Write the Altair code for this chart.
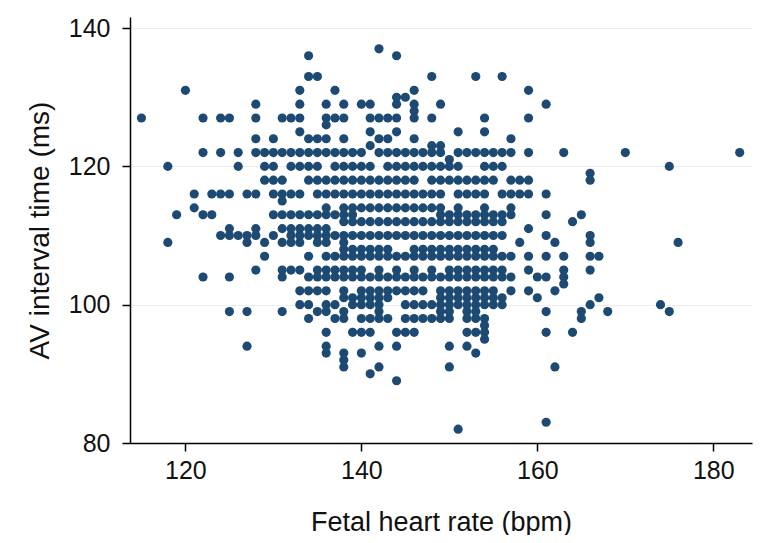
import altair as alt
import pandas as pd

# AV interval (ms) rows -> fetal heart rates (bpm)
r137 = [142]
r136 = [134, 144]
r133 = [134, 135, 148, 153, 156]
r131 = [120, 133, 137, 146, 159]
r130 = [144, 145]
r129 = [128, 133, 136, 138, 140, 141, 144, 146, 149, 161]
r128 = [146]
r127 = [115, 122, 124, 125, 128, 131, 132, 133, 136, 137, 138, 141, 142, 143, 144, 146, 148, 154, 159]
r126 = [136]
r125 = [133, 141, 144, 151, 154]
r124 = [128, 130, 134, 135, 136, 138, 142, 143, 146, 157]
r123 = [141, 148, 149]
r122 = [122, 124, 126, 128, 129, 130, 131, 132, 133, 134, 135, 136, 137, 138, 139, 140, 142, 143, 144, 145,
        146, 147, 148, 149, 151, 152, 153, 154, 155, 156, 157, 159, 163, 170, 183]
r121 = [150]
r120 = [118, 126, 129, 130, 132, 133, 134, 135, 137, 138, 139, 140, 141, 143, 144, 145, 146, 147, 148, 149,
        150, 151, 154, 155, 156, 175]
r119 = [166]
r118 = [129, 130, 131, 134, 135, 136, 137, 138, 139, 140, 141, 142, 143, 144, 145, 146, 148, 149, 150, 151,
        152, 153, 154, 155, 157, 158, 159, 166]
r116 = [121, 123, 124, 125, 127, 128, 130, 131, 132, 133, 135, 136, 137, 138, 139, 140, 141, 142, 143, 144,
        145, 146, 147, 148, 149, 151, 152, 153, 154, 156, 157, 158, 159, 161]
r115 = [131]
r114 = [121, 136, 138, 139, 140, 141, 142, 143, 144, 145, 146, 147, 148, 149, 151, 154, 157]
r113 = [119, 122, 123, 130, 131, 132, 133, 134, 135, 136, 137, 138, 139, 149, 150, 151, 152, 153, 154, 155,
        156, 157, 161, 165]
r112 = [138, 139, 140, 141, 142, 143, 144, 145, 146, 147, 148, 149, 150, 151, 152, 153, 154, 155, 156, 164]
r111 = [125, 128, 131, 132, 133, 134, 135, 136, 159]
r110 = [124, 125, 126, 127, 128, 130, 132, 133, 134, 135, 136, 137, 138, 139, 140, 141, 142, 143, 144, 145,
        146, 147, 148, 149, 150, 151, 152, 153, 154, 155, 156, 161, 166]
r109 = [118, 127, 129, 131, 132, 133, 135, 136, 138, 158, 162, 166, 176]
r108 = [138, 139, 140, 141, 142, 143, 146, 147, 148, 149, 150, 151, 152, 153, 154, 155]
r107 = [129, 134, 136, 137, 138, 139, 140, 141, 142, 143, 144, 145, 146, 147, 148, 149, 150, 151, 152, 153,
        154, 155, 156, 157, 159, 161, 163, 166, 167]
r105 = [128, 131, 132, 133, 135, 136, 137, 138, 139, 140, 142, 144, 146, 148, 150, 151, 152, 153, 154, 155,
        156, 159, 163, 166]
r104 = [122, 125, 131, 134, 135, 136, 137, 138, 139, 140, 141, 142, 143, 144, 145, 146, 147, 148, 149, 150,
        151, 152, 153, 154, 155, 156, 157, 160, 161, 163]
r103 = [163]
r102 = [133, 134, 135, 136, 138, 140, 141, 142, 143, 144, 145, 146, 147, 149, 150, 151, 152, 153, 154, 155,
        157, 159, 162]
r101 = [138, 139, 140, 141, 142, 143, 149, 150, 151, 152, 153, 154, 155, 156, 160, 167]
r100 = [133, 134, 136, 137, 139, 140, 141, 142, 145, 146, 147, 148, 149, 150, 151, 152, 153, 154, 155, 156,
        166, 174]
r99 = [125, 127, 131, 135, 136, 138, 142, 149, 150, 152, 153, 161, 165, 168, 175]
r98 = [134, 137, 138, 140, 141, 142, 143, 145, 146, 147, 148, 149, 150, 152, 153, 154, 165]
r97 = [154]
r96 = [136, 139, 140, 141, 144, 145, 146, 152, 153, 154, 161, 164]
r95 = [154]
r94 = [127, 136, 142, 144, 150, 152]
r93 = [136, 138, 140, 153]
r92 = [138]
r91 = [138, 142, 150, 162]
r90 = [141]
r89 = [144]
r83 = [161]
r82 = [151]

rows = [
    (137, r137), (136, r136), (133, r133), (131, r131), (130, r130), (129, r129), (128, r128),
    (127, r127), (126, r126), (125, r125), (124, r124), (123, r123), (122, r122), (121, r121),
    (120, r120), (119, r119), (118, r118), (116, r116), (115, r115), (114, r114), (113, r113),
    (112, r112), (111, r111), (110, r110), (109, r109), (108, r108), (107, r107), (105, r105),
    (104, r104), (103, r103), (102, r102), (101, r101), (100, r100), (99, r99), (98, r98),
    (97, r97), (96, r96), (95, r95), (94, r94), (93, r93), (92, r92), (91, r91), (90, r90),
    (89, r89), (83, r83), (82, r82),
]

x_ticks = [120, 140, 160, 180]
y_ticks = [80, 100, 120, 140]

records = [{"bpm": b, "av": ms} for ms, bpms in rows for b in bpms]
df = pd.DataFrame(records)

FONT = "Liberation Sans"

chart = alt.Chart(df).mark_circle(size=84, color="#1d4a73", opacity=1).encode(
    x=alt.X("bpm:Q",
            scale=alt.Scale(domain=[113.7, 184.4], nice=False, zero=False),
            axis=alt.Axis(values=x_ticks, title="Fetal heart rate (bpm)", grid=False,
                          titlePadding=26, labelPadding=7, titleFontSize=27)),
    y=alt.Y("av:Q",
            scale=alt.Scale(domain=[80, 141.6], nice=False, zero=False),
            axis=alt.Axis(values=y_ticks, title="AV interval time (ms)", grid=True,
                          gridColor="#eeeeee", gridWidth=1, titlePadding=14, labelPadding=12,
                          titleFontSize=28)),
).properties(
    width=622, height=426,
    autosize=alt.AutoSizeParams(type="none"),
    padding={"left": 122, "top": 9, "right": 7, "bottom": 92},
).configure_view(stroke=None).configure_axis(
    domainColor="#000000", domainWidth=1.5,
    tickColor="#000000", tickWidth=1.5, tickSize=8,
    labelFont=FONT, labelFontSize=25, labelColor="#111111",
    titleFont=FONT, titleFontWeight="normal", titleColor="#111111",
)

chart.save("out.html", embed_options={"renderer": "svg", "actions": False})
